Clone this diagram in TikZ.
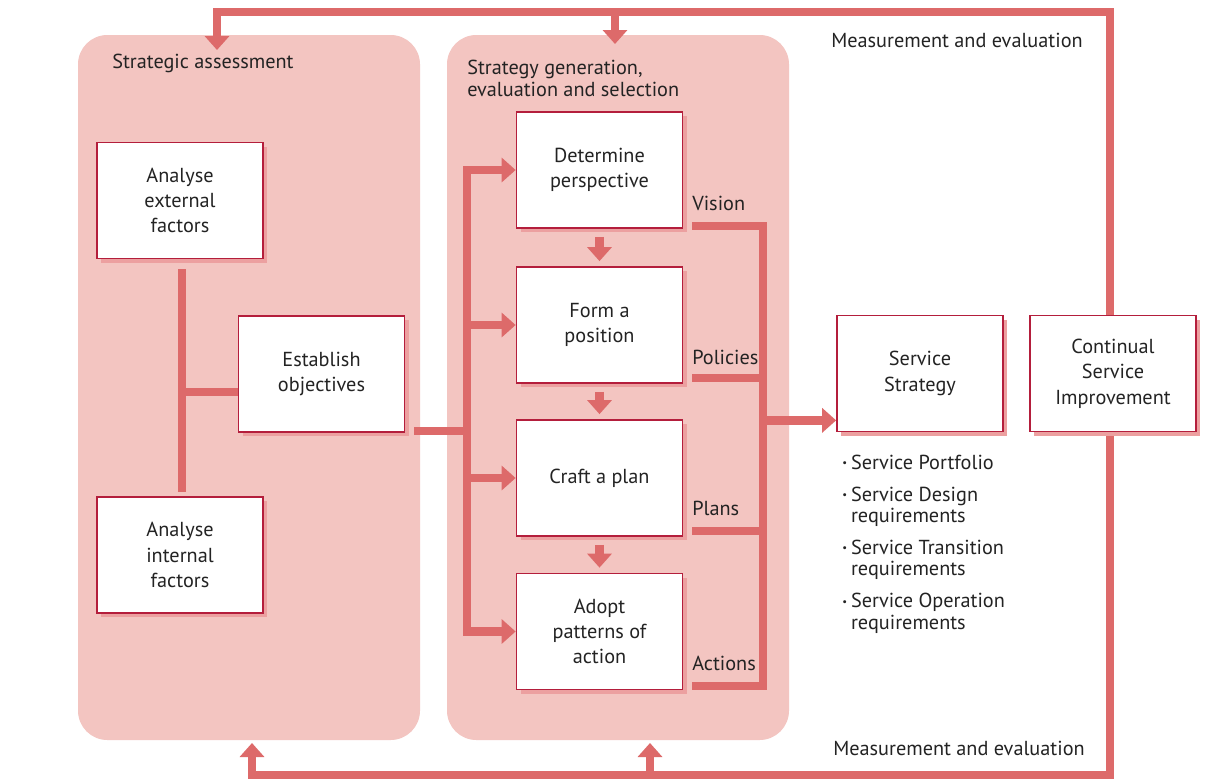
\documentclass[tikz,border=0pt]{standalone}
\usepackage{fontspec}
\setmainfont{PT Sans}
\usetikzlibrary{arrows.meta,shadows,calc}

\definecolor{panelpink}{RGB}{243,197,193}
\definecolor{flow}{RGB}{221,106,106}
\definecolor{boxedge}{RGB}{180,30,60}
\definecolor{shade}{RGB}{236,160,160}
\definecolor{ink}{RGB}{35,35,35}

\newcommand{\bodyfont}{\fontsize{15.2}{19}\selectfont}
\newcommand{\dotmark}{\raisebox{0.25ex}{\fontsize{8}{8}\selectfont\textbullet}}

\begin{document}
\begin{tikzpicture}[x=0.75pt,y=-0.75pt,
  text=ink,
  panel/.style={fill=panelpink, rounded corners=22pt, minimum width=256.5pt,
    minimum height=528.75pt, inner sep=0pt},
  stepbox/.style={draw=boxedge, line width=1.3pt, fill=white,
    minimum width=124.5pt, minimum height=87pt, inner sep=2pt, align=center,
    font=\bodyfont,
    drop shadow={shadow xshift=3pt, shadow yshift=-3pt, fill=shade, opacity=1}},
  flowline/.style={draw=flow, line width=6.4pt, line join=miter},
  flowarrow/.style={flowline, -{Triangle[width=18pt,length=10.5pt]}},
  label/.style={font=\bodyfont, inner sep=0pt},
]
% canvas
\useasboundingbox (0,0) rectangle (1210,782);
\fill[white] (0,0) rectangle (1210,782);

% the two stage panels
\node[panel] (sa) at (249,387.5) {};
\node[panel] (sg) at (618,387.5) {};

% feedback loop: measurement and evaluation
\coordinate (tl) at (217,12);
\coordinate (tr) at (1110,12);
\coordinate (br) at (1110,775);
\coordinate (bl) at (252,775);
\coordinate (saTop) at (217,50);
\coordinate (sgTop) at (615,44);
\coordinate (saBot) at (252,743);
\coordinate (sgBot) at (650,743);
\draw[flowarrow] (br) -- (tr) -- (tl) -- (saTop);
\draw[flowarrow] (tr) -- (br) -- (bl) -- (saBot);
\draw[flowarrow] (sgTop |- tl) -- (sgTop);
\draw[flowarrow] (sgBot |- bl) -- (sgBot);

% step boxes
\node[stepbox] (ext) at (180,200.5) {Analyse\\external\\factors};
\node[stepbox] (int) at (180,555) {Analyse\\internal\\factors};
\node[stepbox] (obj) at (321.5,374) {Establish\\objectives};
\node[stepbox] (det) at (599.5,170) {Determine\\perspective};
\node[stepbox] (pos) at (599.5,325) {Form a\\position};
\node[stepbox] (plan) at (599.5,478) {Craft a plan};
\node[stepbox] (act) at (599.5,631.5) {Adopt\\patterns of\\action};
\node[stepbox] (ss) at (920,373.5) {Service\\Strategy};
\node[stepbox] (csi) at (1113,373.5) {Continual\\Service\\Improvement};

% assessment links
\coordinate (lbus) at (182,0);
\draw[flowline] ([shift={(2,10)}]ext.south) -- ([shift={(2,-4)}]int.north);
\draw[flowline] (lbus |- obj.west) ++(0,18) -- ([shift={(0,18)}]obj.west);

% objectives feed the generation stage
\coordinate (bus) at (467,0);
\coordinate (objOut) at ([shift={(9,-2)}]obj.south east);
\draw[flowline] (objOut) -- (bus |- objOut);
\draw[flowarrow] (bus |- act.west) |- (det.west);
\draw[flowarrow] (bus |- det.west) |- (act.west);
\draw[flowarrow] (bus |- pos.west) -- (pos.west);
\draw[flowarrow] (bus |- plan.west) -- (plan.west);

% sequence inside the generation stage
\draw[flowarrow] ([shift={(0,8)}]det.south) -- ([shift={(0,-5)}]pos.north);
\draw[flowarrow] ([shift={(0,8)}]pos.south) -- ([shift={(0,-5)}]plan.north);
\draw[flowarrow] ([shift={(0,8)}]plan.south) -- ([shift={(0,-5)}]act.north);

% outputs gathered into the service strategy
\coordinate (obus) at (763,0);
\coordinate (vis) at (692,226);
\coordinate (pol) at (692,378);
\coordinate (pla) at (692,531);
\coordinate (acn) at (692,686);
\draw[flowline] (vis) -| (obus |- acn) -- (acn);
\draw[flowline] (pol) -- (obus |- pol);
\draw[flowline] (pla) -- (obus |- pla);
\draw[flowarrow] (obus |- ss.south west) ++(0,-12) -- ([shift={(0,-12)}]ss.south west);

% output labels
\node[label, anchor=west] (lv) at (692,203) {Vision};
\node[label, anchor=west] (lp) at (692,357) {Policies};
\node[label, anchor=west] (ll) at (692,508) {Plans};
\node[label, anchor=west] (la) at (692,663) {Actions};

% panel headings
\node[label, anchor=west] (hsa) at (112,63) {Strategic assessment};
\node[label, anchor=north west, align=left, font=\fontsize{15.2}{16.5}\selectfont] (hsg) at (467,60)
  {Strategy generation,\\evaluation and selection};

% loop captions
\node[label, anchor=west] (mt) at (831,40) {Measurement and evaluation};
\node[label, anchor=west] (mb) at (833,748) {Measurement and evaluation};

% strategy deliverables
\node[anchor=base west, inner sep=0pt, font=\fontsize{15.2}{16}\selectfont] (deliv) at (842,469)
  {\begin{tabular}[t]{@{}l@{\hspace{3pt}}l@{}}
   \dotmark & Service Portfolio\\[8pt]
   \dotmark & Service Design\\
            & requirements\\[8pt]
   \dotmark & Service Transition\\
            & requirements\\[8pt]
   \dotmark & Service Operation\\
            & requirements
   \end{tabular}};
\end{tikzpicture}
\end{document}
